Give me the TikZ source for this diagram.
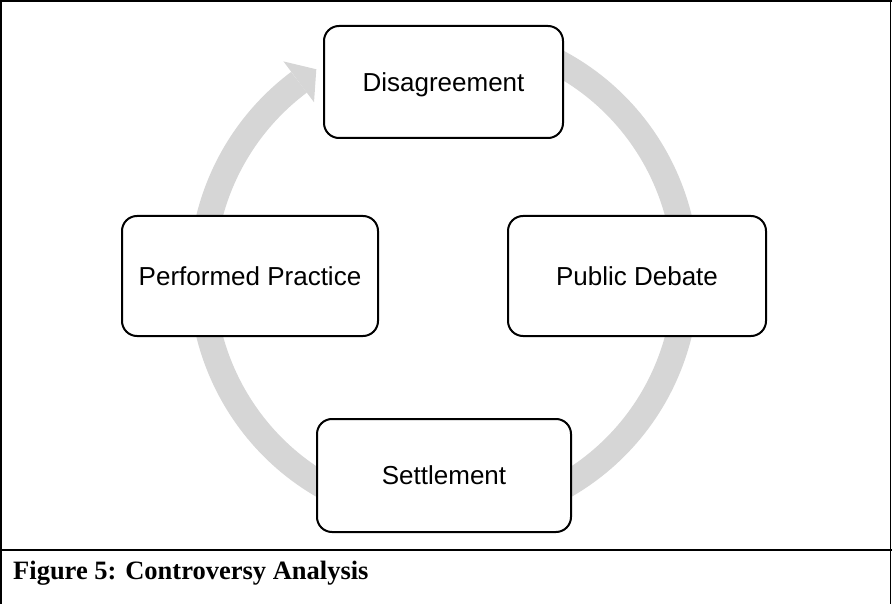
\documentclass[tikz,border=0pt]{standalone}
\usepackage{fontspec}
\setmainfont{Liberation Serif}
\newfontfamily\arialf{Liberation Sans}
\definecolor{ringgray}{RGB}{214,214,214}
\begin{document}
\begin{tikzpicture}[x=1pt,y=1pt,
  stagebox/.style={draw=black, line width=2pt, rounded corners=15pt, fill=white,
    font=\arialf\fontsize{26}{30}\selectfont, inner sep=0pt, text height=18.6pt, text depth=0pt},
  ringline/.style={draw=ringgray, line width=26pt},
  framerule/.style={draw=black, line width=1.5pt}]
\useasboundingbox (0,0) rectangle (892,-604);
% frame
\draw[framerule] (1,0) -- (1,-604);
\draw[framerule] (0,-1) -- (892,-1);
\draw[framerule] (890.5,0) -- (890.5,-604);
\draw[line width=2pt] (0,-550) -- (892,-550);
% cycle ring
\coordinate (c) at (444,-276);
\draw[ringline] ([shift={(72:242pt)}]c) arc[start angle=72, end angle=-233.2, radius=242pt];
\fill[ringgray] ([shift={(126.8:268pt)}]c) -- ([shift={(121.7:243pt)}]c) -- ([shift={(126.8:217pt)}]c) -- cycle;
% stages
\node[stagebox, minimum width=239pt, minimum height=112pt] (dis) at (443.5,-82) {Disagreement};
\node[stagebox, minimum width=258pt, minimum height=120pt] (pub) at (637,-276) {Public Debate};
\node[stagebox, minimum width=256pt, minimum height=120pt] (per) at (250,-276) {Performed Practice};
\node[stagebox, minimum width=254pt, minimum height=113pt] (set) at (444,-475.5) {Settlement};
% caption
\node[anchor=base west, font=\bfseries\fontsize{26.5}{30}\selectfont, inner sep=0pt] (cap) at (13,-579) {Figure 5: Controversy Analysis};
\end{tikzpicture}
\end{document}
